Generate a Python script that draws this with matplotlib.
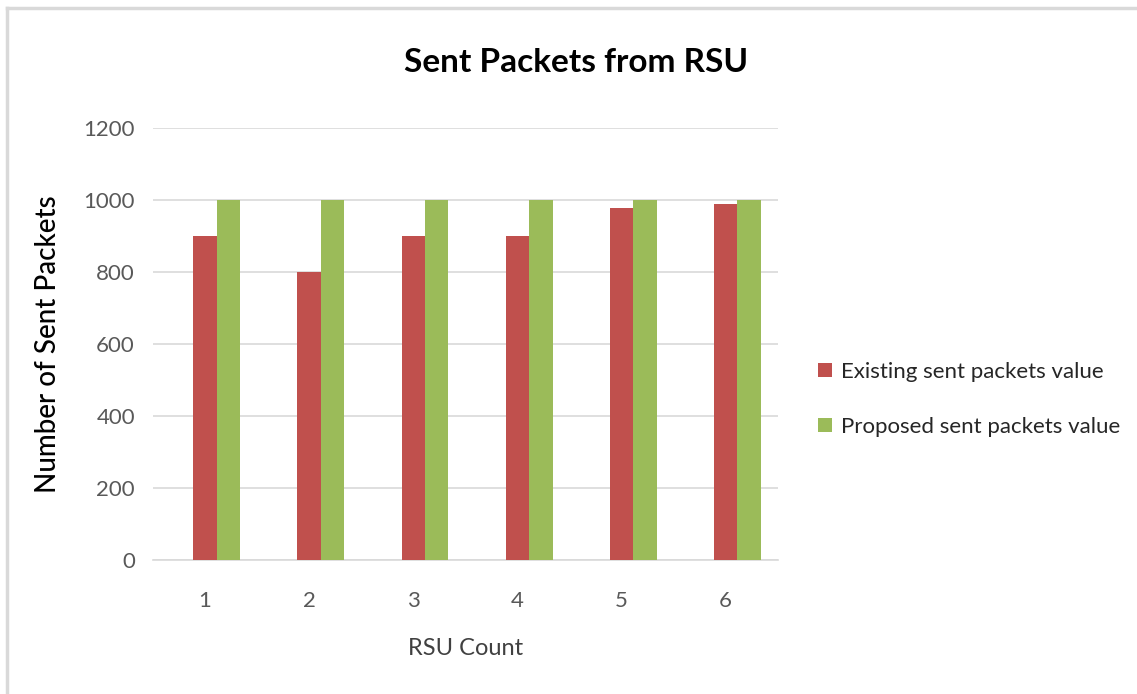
import matplotlib

matplotlib.use("Agg")
import matplotlib.pyplot as plt
import numpy as np
from matplotlib.lines import Line2D

rsu_counts = ["1", "2", "3", "4", "5", "6"]
existing_sent = [900, 800, 900, 900, 978, 988]
proposed_sent = [1000, 1000, 1000, 1000, 1000, 1000]
series_names = ["Existing sent packets value", "Proposed sent packets value"]
y_ticks = [0, 200, 400, 600, 800, 1000, 1200]

RED = "#c0504d"
GREEN = "#9bbb59"
TICK_GREY = "#595959"

plt.rcParams["font.family"] = ["Lato", "DejaVu Sans"]

fig = plt.figure(figsize=(11.37, 6.94), dpi=100)
ax = fig.add_axes([0.1346, 0.193, 0.5494, 0.6225])

x = np.arange(len(rsu_counts))
width = 0.225
ax.bar(x, existing_sent, width, color=RED, label=series_names[0], zorder=3)
ax.bar(x + width, proposed_sent, width, color=GREEN, label=series_names[1], zorder=3)

ax.set_xlim(-0.5, len(rsu_counts) - 0.5)
ax.set_ylim(0, 1200)
ax.set_yticks(y_ticks)
ax.set_xticks(x)
ax.set_xticklabels(rsu_counts)
ax.yaxis.grid(True, color="#d9d9d9", linewidth=1.2, zorder=0)
ax.tick_params(axis="both", length=0, labelsize=16, labelcolor=TICK_GREY)
ax.tick_params(axis="y", pad=13)
ax.tick_params(axis="x", pad=22)
for side in ["top", "right", "left"]:
    ax.spines[side].set_visible(False)
ax.spines["bottom"].set_color("#d9d9d9")
ax.spines["bottom"].set_linewidth(1.2)

ax.set_ylabel("Number of Sent Packets", fontsize=20, color="black",
              fontweight="medium", labelpad=16)
ax.set_xlabel("RSU Count", fontsize=17, color="#404040", labelpad=20)
fig.text(0.507, 0.91, "Sent Packets from RSU", ha="center", va="center",
         fontsize=24, fontweight="bold", color="black")

ax.legend(loc="center left", bbox_to_anchor=(1.033, 0.372), frameon=False,
          fontsize=16, handlelength=0.6, handleheight=0.6, handletextpad=0.4,
          labelspacing=1.6, labelcolor="#262626")

# light frame along the top and left edges
fig.add_artist(Line2D([0.006, 1.0], [0.988, 0.988], color="#d9d9d9", linewidth=2.5))
fig.add_artist(Line2D([0.0065, 0.0065], [0.0, 0.988], color="#d9d9d9", linewidth=2.5))

fig.savefig("out.png", dpi=100, facecolor="white")
